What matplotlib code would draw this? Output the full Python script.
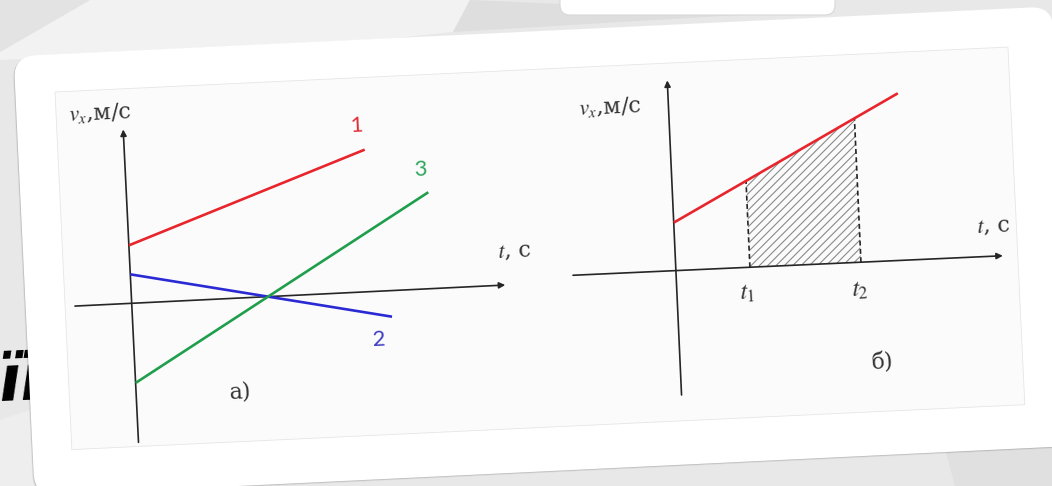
import numpy as np
import matplotlib
matplotlib.use("Agg")
import matplotlib.pyplot as plt
from matplotlib.transforms import Affine2D
from matplotlib.patches import FancyBboxPatch, Rectangle, Polygon

plt.rcParams["font.family"] = ["DejaVu Serif"]
plt.rcParams["mathtext.fontset"] = "stix"
plt.rcParams["hatch.linewidth"] = 0.8

# ---- diagram (а): three velocity graphs v_x(t)
line1_t = [0.0, 8.8]
line1_v = [4.0, 9.8]
line2_t = [0.0, 9.5]
line2_v = [2.0, -1.8]
line3_t = [0.0, 11.05]
line3_v = [-5.5, 6.65]
labels_a = ["1", "2", "3"]

# ---- diagram (б): uniformly accelerated motion, area between t1 and t2
red_t = [0.0, 9.3]
red_v = [3.0, 10.44]
t1, t2 = 3.0, 7.5
tick_labels_b = [r"$t_1$", r"$t_2$"]

RED = "#e8242c"
BLUE = "#2a2ad4"
GREEN = "#1f9e4c"
AXIS = "#262626"

fig = plt.figure(figsize=(10.52, 4.86), dpi=100)
ax = fig.add_axes([0, 0, 1, 1])
ax.set_xlim(0, 1052)
ax.set_ylim(486, 0)
ax.axis("off")

# ---- slide background
ax.add_patch(Rectangle((0, 0), 1052, 486, facecolor="#e8e8e8", edgecolor="none", zorder=0))
ax.add_patch(Polygon([(90, 0), (470, 0), (453, 32), (330, 45), (0, 60), (0, 52)],
                     closed=True, facecolor="#f2f2f2", edgecolor="none", zorder=0.1))
ax.add_patch(Polygon([(0, 0), (90, 0), (0, 52)], closed=True,
                     facecolor="#e3e3e3", edgecolor="none", zorder=0.1))
ax.add_patch(Polygon([(470, 0), (773, 13), (453, 32)], closed=True,
                     facecolor="#dedede", edgecolor="none", zorder=0.1))
ax.add_patch(FancyBboxPatch((560, -30), 275, 45, boxstyle="round,pad=0,rounding_size=10",
                            facecolor="white", edgecolor="#d8d8d8", lw=0.8, zorder=0.2))
ax.add_patch(Polygon([(940, 430), (1052, 420), (1052, 486), (955, 486)], closed=True,
                     facecolor="#e0e0e0", edgecolor="none", zorder=0.1))
ax.add_patch(Polygon([(0, 420), (60, 400), (60, 486), (0, 486)], closed=True,
                     facecolor="#eeeeee", edgecolor="none", zorder=0.1))

# slide title, mostly hidden behind the card
ax.text(-3, 401, "її", fontsize=46, fontweight="bold", fontstyle="italic",
        family="DejaVu Sans", color="black", ha="left", va="baseline",
        rotation=2.5, zorder=0.5)

# ---- white card with soft shadow
card_tr = Affine2D().rotate_deg(-2.75).translate(13.6, 56.3) + ax.transData
for off, alpha in [(5, 0.05), (3, 0.07), (1.5, 0.10)]:
    ax.add_patch(FancyBboxPatch((-off * 0.3, off * 0.3), 1040, 440,
                                boxstyle="round,pad=0,rounding_size=22",
                                facecolor="#000000", alpha=alpha, edgecolor="none",
                                transform=card_tr, zorder=1))
ax.add_patch(FancyBboxPatch((0, 0), 1040, 440, boxstyle="round,pad=0,rounding_size=22",
                            facecolor="white", edgecolor="none", transform=card_tr, zorder=2))

# picture area inside the card
img_tr = Affine2D().rotate_deg(-2.7).translate(55, 92) + ax.transData
ax.add_patch(Rectangle((0, 0), 954, 358, facecolor="#fbfbfb", edgecolor="#e6e6e6",
                       lw=0.6, transform=img_tr, zorder=3))


def frame(scale_t, scale_v, angle, ox, oy):
    return Affine2D().scale(scale_t, -scale_v).rotate_deg(angle).translate(ox, oy) + ax.transData


def draw_axes(tr, tmin, tmax, vmin, vmax):
    arrow = dict(arrowstyle="-|>", color=AXIS, lw=1.2, mutation_scale=9,
                 shrinkA=0, shrinkB=0)
    ax.annotate("", xy=(tmax, 0), xytext=(tmin, 0), xycoords=tr, textcoords=tr,
                arrowprops=arrow, zorder=5)
    ax.annotate("", xy=(0, vmax), xytext=(0, vmin), xycoords=tr, textcoords=tr,
                arrowprops=arrow, zorder=5)


def label(tr, t, v, s, size, color="#333333", family=None):
    x, y = tr.transform((t, v))
    xd, yd = ax.transData.inverted().transform((x, y))
    kw = {}
    if family:
        kw["family"] = family
    ax.text(xd, yd, s, fontsize=size, color=color, ha="center", va="center",
            rotation=2.7, zorder=7, **kw)


# ---- diagram (а)
tra = frame(27.3, 14.5, -2.8, 131.7, 303.3)
draw_axes(tra, -2.08, 13.7, -9.6, 12.0)
ax.plot(line1_t, line1_v, color=RED, lw=1.9, transform=tra, zorder=6, solid_capstyle="butt")
ax.plot(line2_t, line2_v, color=BLUE, lw=1.9, transform=tra, zorder=6, solid_capstyle="butt")
ax.plot(line3_t, line3_v, color=GREEN, lw=1.9, transform=tra, zorder=6, solid_capstyle="butt")
label(tra, 8.55, 11.5, labels_a[0], 16, color="#e0303a", family="Lato")
label(tra, 9.0, -3.37, labels_a[1], 16, color="#3a3ac0", family="Lato")
label(tra, 10.8, 8.2, labels_a[2], 16, color="#2ca55a", family="Lato")
label(tra, 14.1, 2.24, r"$t$, с", 16)
label(tra, -0.82, 13.2, r"$v_x$,м/с", 16)
label(tra, 3.8, -6.5, "а)", 16)

# ---- diagram (б)
trb = frame(24.7, 16.0, -2.6, 675.9, 270.6)
draw_axes(trb, -4.17, 13.25, -7.78, 11.9)
v1 = np.interp(t1, red_t, red_v)
v2 = np.interp(t2, red_t, red_v)
ax.add_patch(Polygon([(t1, 0), (t1, v1), (t2, v2), (t2, 0)], closed=True,
                     facecolor="none", edgecolor="#8a8a8a", lw=0, hatch="////",
                     transform=trb, zorder=4))
ax.plot([t1, t1], [0, v1], color=AXIS, lw=1.2, ls=(0, (3, 2)), transform=trb, zorder=5)
ax.plot([t2, t2], [0, v2], color=AXIS, lw=1.2, ls=(0, (3, 2)), transform=trb, zorder=5)
ax.plot(red_t, red_v, color=RED, lw=1.9, transform=trb, zorder=6, solid_capstyle="butt")
label(trb, 2.87, -1.6, tick_labels_b[0], 18)
label(trb, 7.41, -1.73, tick_labels_b[1], 18)
label(trb, 12.9, 1.82, r"$t$, с", 16)
label(trb, -2.36, 10.4, r"$v_x$,м/с", 16)
label(trb, 8.2, -6.3, "б)", 16)

fig.savefig("out.png", dpi=100)
